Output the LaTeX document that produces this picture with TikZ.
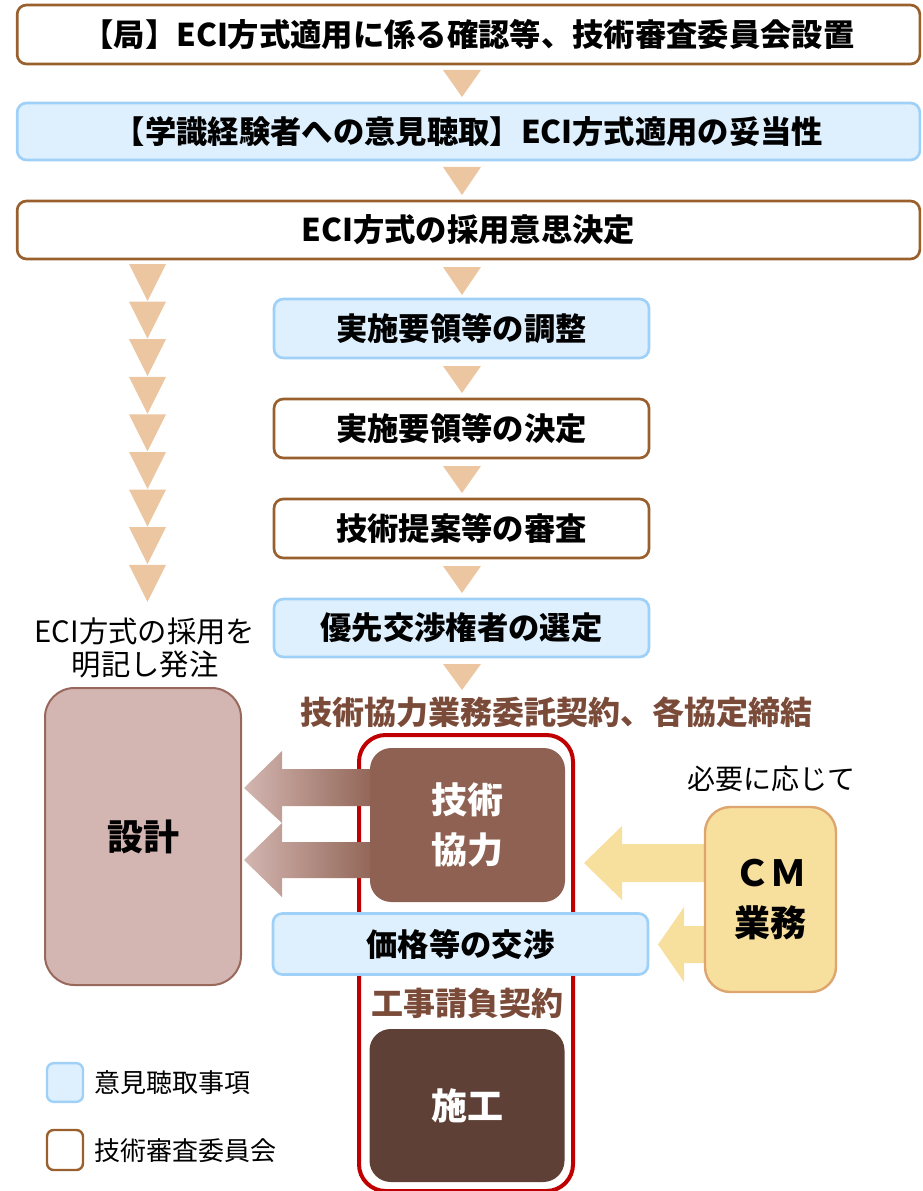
\documentclass[tikz,border=0pt]{standalone}
\usepackage{fontspec}
\setmainfont{Noto Sans CJK JP}
\definecolor{brd}{HTML}{995F2D}
\definecolor{bluef}{HTML}{DEF0FD}
\definecolor{blued}{HTML}{9FD0F7}
\definecolor{tricol}{HTML}{EBC6A0}
\definecolor{ctext}{HTML}{7B4B3A}
\definecolor{gikyo}{HTML}{8E6152}
\definecolor{sekou}{HTML}{5E4037}
\definecolor{sekkei}{HTML}{D3B6B1}
\definecolor{sekkeid}{HTML}{99685C}
\definecolor{cmf}{HTML}{F7DF9E}
\definecolor{cmd}{HTML}{DDA66E}
\definecolor{redb}{HTML}{C00000}
\begin{document}
\begin{tikzpicture}[x=0.75pt,y=-0.75pt]
\useasboundingbox (0,0) rectangle (923,1191);
\tikzset{
 wide/.style={minimum width=677pt},
 mid/.style={minimum width=281.25pt},
 wbox/.style={draw=brd, fill=white, line width=2pt, rounded corners=7pt, inner sep=0pt},
 bbox/.style={draw=blued, fill=bluef, line width=2pt, rounded corners=7pt, inner sep=0pt},
 tfont/.style={font=\bfseries\fontsize{23.5}{27}\selectfont},
 mfont/.style={font=\bfseries\fontsize{23.5}{27}\selectfont},
 bigw/.style={text=white, font=\bfseries\fontsize{27}{37.5}\selectfont, align=center, inner sep=0pt, rounded corners=16pt, minimum width=146.25pt},
 lab/.style={inner sep=0pt}
}
% top boxes
\node[wbox, wide, tfont, minimum height=44.25pt] (b1) at (468.5,34.5) {【局】ECI方式適用に係る確認等、技術審査委員会設置};
\node[bbox, wide, tfont, minimum height=42.75pt] (b2) at (468.5,131.5) {【学識経験者への意見聴取】ECI方式適用の妥当性};
\node[wbox, wide, tfont, minimum height=43.5pt] (b3) at (468.5,230) {ECI方式の採用意思決定};
% centre column
\node[bbox, mid, mfont, minimum height=44.25pt] (c1) at (461.5,328.5) {実施要領等の調整};
\node[wbox, mid, mfont, minimum height=44.25pt] (c2) at (461.5,428.5) {実施要領等の決定};
\node[wbox, mid, mfont, minimum height=44.25pt] (c3) at (461.5,528.5) {技術提案等の審査};
\node[bbox, mid, mfont, minimum height=43.5pt] (c4) at (461.5,628) {優先交渉権者の選定};
% triangles
\foreach \t/\b in {70/97,167/195,267/295,366/393,466/493,566/593,664/690}
  \fill[tricol] (443,\t) -- (481,\t) -- (462,\b) -- cycle;
\foreach \i in {0,...,8}
  \fill[tricol] (129,{264+37.6*\i}) -- (166,{264+37.6*\i}) -- (147.5,{301+37.6*\i}) -- cycle;
% labels
\node[lab, text=ctext, font=\bfseries\fontsize{24}{28}\selectfont] (kyotei) at (556,712) {技術協力業務委託契約、各協定締結};
\node[lab, font=\fontsize{22}{24.75}\selectfont, align=center] (meiki) at (145,648) {ECI方式の採用を\\明記し発注};
\node[lab, font=\fontsize{21}{25}\selectfont] (hitsuyo) at (771,779) {必要に応じて};
% red outline
\draw[redb, line width=3pt, rounded corners=20pt] (359,735) rectangle (573,1191);
% gradient arrows
\shade[left color=sekkei, right color=gikyo] (244,788) -- (282,751) -- (282,769) -- (380,769) -- (380,806) -- (282,806) -- (282,823) -- cycle;
\shade[left color=sekkei, right color=gikyo] (244,860) -- (282,823) -- (282,842) -- (380,842) -- (380,878) -- (282,878) -- (282,897) -- cycle;
% CM arrows
\fill[cmf] (584,863) -- (622,826) -- (622,844) -- (710,844) -- (710,882) -- (622,882) -- (622,900) -- cycle;
\fill[cmf] (658,944.5) -- (684,907) -- (684,926) -- (710,926) -- (710,963) -- (684,963) -- (684,982) -- cycle;
% boxes
\node[bigw, fill=gikyo, minimum height=115.5pt] (gk) at (467.5,825) {技術\\協力};
\node[bbox, mid, font=\bfseries\fontsize{23.5}{27}\selectfont, minimum height=45.75pt] (kakaku) at (460.5,944) {価格等の交渉};
\node[lab, text=ctext, font=\bfseries\fontsize{24}{28}\selectfont] (koji) at (467,1003) {工事請負契約};
\node[bigw, fill=sekou, minimum height=114.75pt] (sk) at (467,1105.5) {施工};
\node[draw=sekkeid, fill=sekkei, line width=1.5pt, rounded corners=22pt, minimum width=147pt, minimum height=222.75pt, font=\bfseries\fontsize{27}{32}\selectfont] (sekkei) at (143,836.5) {設計};
\node[draw=cmd, fill=cmf, line width=1.8pt, rounded corners=19pt, minimum width=98.25pt, minimum height=138.75pt, align=center, font=\bfseries\fontsize{27}{37.5}\selectfont] (cm) at (770.5,899.5) {ＣＭ\\業務};
% legend
\node[draw=blued, fill=bluef, line width=1.8pt, rounded corners=5pt, minimum width=27pt, minimum height=29pt, inner sep=0pt] (lg1) at (65,1082.5) {};
\node[lab, anchor=west, font=\fontsize{19.5}{24}\selectfont] (lt1) at (94,1083) {意見聴取事項};
\node[draw=brd, fill=white, line width=1.8pt, rounded corners=5pt, minimum width=27pt, minimum height=30pt, inner sep=0pt] (lg2) at (65,1150) {};
\node[lab, anchor=west, font=\fontsize{19.5}{24}\selectfont] (lt2) at (94,1151) {技術審査委員会};
\end{tikzpicture}
\end{document}
